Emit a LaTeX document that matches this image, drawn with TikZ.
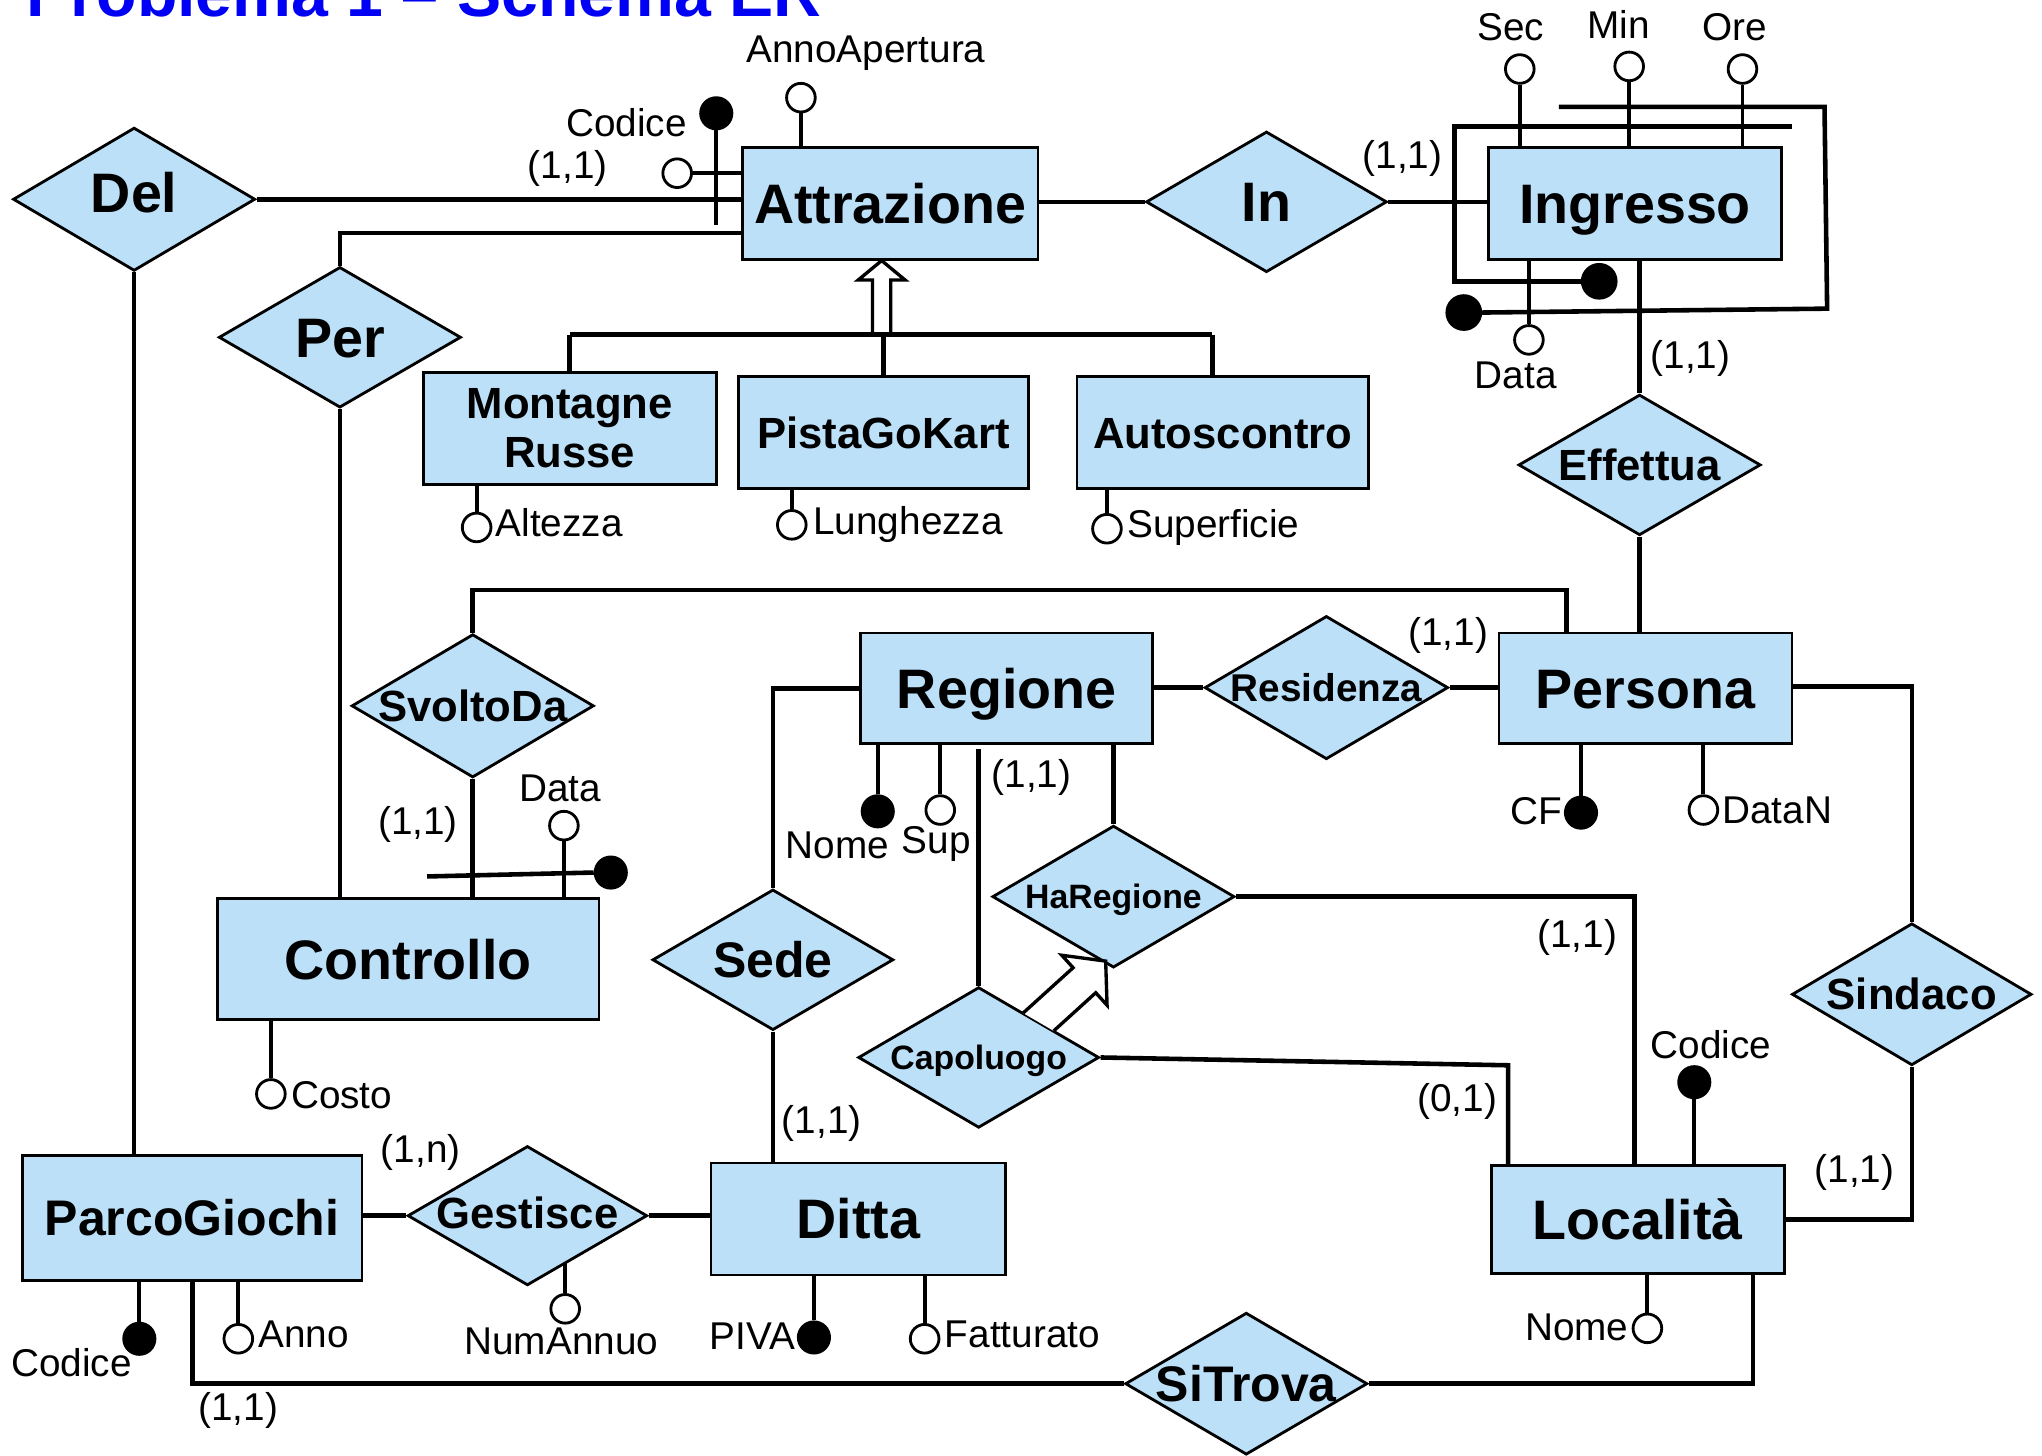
\documentclass[tikz,border=0pt]{standalone}
\usepackage{fontspec}
\setmainfont{Liberation Sans}
\usetikzlibrary{shapes.geometric,calc}
\definecolor{erblue}{RGB}{187,224,248}
\definecolor{titleblue}{RGB}{0,0,245}
\newcommand\fA{\bfseries\fontsize{15.8}{17}\selectfont}
\newcommand\fB{\bfseries\fontsize{12.4}{14}\selectfont}
\newcommand\fC{\bfseries\fontsize{14.2}{16}\selectfont}
\newcommand\fD{\bfseries\fontsize{11}{13}\selectfont}
\newcommand\fE{\bfseries\fontsize{9.6}{11}\selectfont}
\tikzset{
  ent/.style={draw,fill=erblue,line width=0.8pt,inner sep=0pt,align=center,font=\fA},
  rel/.style={diamond,draw,fill=erblue,line width=0.8pt,inner sep=0pt,font=\fA},
  capA/.style={text height=11.3pt,text depth=0pt},
  capB/.style={font=\fB,text height=8.9pt,text depth=0pt},
  capC/.style={font=\fC,text height=10.2pt,text depth=0pt},
  capD/.style={font=\fD,text height=7.9pt,text depth=0pt},
  capE/.style={font=\fE,text height=6.9pt,text depth=0pt},
  conn/.style={line width=1.3pt},
  attl/.style={line width=1.1pt},
  isaarrow/.style={line width=0.95pt,fill=white},
  oatt/.style={circle,draw,fill=white,line width=0.8pt,minimum size=0.286cm,inner sep=0pt},
  fatt/.style={circle,draw,fill=black,line width=0.8pt,minimum size=0.312cm,inner sep=0pt},
  lbl/.style={font=\fontsize{11}{12}\selectfont,inner sep=0pt},
}
\begin{document}
\begin{tikzpicture}[x=0.013cm,y=-0.013cm]
\useasboundingbox (0,0) rectangle (1568,1118);
\clip (0,0) rectangle (1568,1118);

% title
\node[anchor=base west,inner sep=0pt,text=titleblue,font=\bfseries\fontsize{18.8}{20}\selectfont] (title) at (20,13) {Problema 1 – Schema ER};

% entities
\node[ent,capA,minimum width=2.951cm,minimum height=1.118cm] (attr) at (683.5,156) {Attrazione};
\node[ent,capA,minimum width=2.925cm,minimum height=1.118cm] (ingr) at (1255.5,156) {Ingresso};
\node[ent,minimum width=2.925cm,minimum height=1.118cm,font=\fB] (mr) at (437.5,329) {Montagne\\Russe};
\node[ent,capB,minimum width=2.899cm,minimum height=1.118cm] (pgk) at (678.5,332) {PistaGoKart};
\node[ent,capB,minimum width=2.912cm,minimum height=1.118cm] (ac) at (939,332) {Autoscontro};
\node[ent,capA,minimum width=2.912cm,minimum height=1.105cm] (reg) at (773,528.5) {Regione};
\node[ent,capA,minimum width=2.925cm,minimum height=1.105cm] (pers) at (1263.5,528.5) {Persona};
\node[ent,capA,minimum width=3.809cm,minimum height=1.209cm] (ctrl) at (313.5,736.5) {Controllo};
\node[ent,capC,minimum width=3.393cm,minimum height=1.248cm] (pg) at (147.5,935) {ParcoGiochi};
\node[ent,capA,minimum width=2.938cm,minimum height=1.118cm] (ditta) at (659,936) {Ditta};
\node[ent,capA,minimum width=2.925cm,minimum height=1.079cm] (loc) at (1257.5,936.5) {Località};

% relationships
\node[rel,capA,minimum width=2.418cm,minimum height=1.43cm] (del) at (103,153) {\makebox[0pt]{\raisebox{1.8pt}{Del}}};
\node[rel,capA,minimum width=2.405cm,minimum height=1.404cm] (in) at (972.5,155) {\makebox[0pt]{In}};
\node[rel,capA,minimum width=2.418cm,minimum height=1.404cm] (per) at (261,259) {\makebox[0pt]{Per}};
\node[rel,capB,minimum width=2.418cm,minimum height=1.404cm] (eff) at (1259,357) {\makebox[0pt]{Effettua}};
\node[rel,capB,minimum width=2.418cm,minimum height=1.43cm] (svd) at (363,542) {\makebox[0pt]{SvoltoDa}};
\node[rel,capD,minimum width=2.431cm,minimum height=1.43cm] (res) at (1018.5,528) {\makebox[0pt]{Residenza}};
\node[rel,capC,minimum width=2.405cm,minimum height=1.404cm] (sede) at (593.5,737) {\makebox[0pt]{Sede}};
\node[rel,capE,minimum width=2.418cm,minimum height=1.417cm] (har) at (855,688.5) {\makebox[0pt]{HaRegione}};
\node[rel,capE,minimum width=2.405cm,minimum height=1.404cm] (cap) at (751.5,812) {\makebox[0pt]{Capoluogo}};
\node[rel,capB,minimum width=2.392cm,minimum height=1.417cm] (sin) at (1468,763.5) {\makebox[0pt]{Sindaco}};
\node[rel,capB,minimum width=2.392cm,minimum height=1.391cm] (ges) at (405,933.5) {\makebox[0pt]{\raisebox{0.8pt}{Gestisce}}};
\node[rel,capC,minimum width=2.418cm,minimum height=1.417cm] (sit) at (957,1062.5) {\makebox[0pt]{SiTrova}};

% ---------- Attrazione ----------
\node[fatt] (cod1) at (550,87) {};
\node[oatt] (cod1b) at (520,133) {};
\node[oatt] (anno1) at (615,75) {};
\node[lbl] (lcod1) at (481,94) {Codice};
\node[lbl] (lanno1) at (665,41) {AnnoApertura};
\node[lbl] (k1) at (436,129) {(1,1)};
\draw[conn] (del.east) -- (del.east -| attr.west);
\draw[attl] (cod1.south) -- (cod1.south |- 0,173);
\draw[attl] (cod1b.east) -- (cod1b.east -| attr.west);
\draw[attl] (anno1.south) -- (anno1.south |- attr.north);
\draw[conn] (attr.west |- 0,179) -| (per.north);
\draw[conn] (attr.east |- in.west) -- (in.west);
\draw[conn] (in.east) -- (in.east -| ingr.west);
\node[lbl] (k2) at (1077,122) {(1,1)};

% generalization
\coordinate (isa1) at (attr.south -| 677,0);
\coordinate (gL) at (437.5,257);
\coordinate (gM) at (678.5,257);
\coordinate (gR) at (931,257);
\draw[isaarrow] (670,257) -- (670,215) -- (659,215) -- (isa1) -- (695,215) -- (684,215) -- (684,257);
\draw[conn] (gL) -- (gR);
\draw[conn] (gL) -- (mr.north);
\draw[conn] (gM) -- (pgk.north);
\draw[conn] (gR) -- (ac.north -| gR);

\node[oatt] (alt) at (366,405) {};
\node[oatt] (lun) at (608,403) {};
\node[oatt] (sup1) at (850,406) {};
\draw[attl] (alt.north) -- (alt.north |- mr.south);
\draw[attl] (lun.north) -- (lun.north |- pgk.south);
\draw[attl] (sup1.north) -- (sup1.north |- ac.south);
\node[lbl,anchor=west] (lalt) at (380,401) {Altezza};
\node[lbl,anchor=west] (llun) at (624,403) {Lunghezza};
\node[lbl,anchor=west] (lsup) at (865,405) {Superficie};

% ---------- Ingresso ----------
\node[oatt] (sec) at (1167,53) {};
\node[oatt] (min) at (1251,51) {};
\node[oatt] (ore) at (1338,53) {};
\draw[attl] (sec.south) -- (sec.south |- ingr.north);
\draw[attl] (min.south) -- (min.south |- ingr.north);
\draw[attl] (ore.south) -- (ore.south |- ingr.north);
\node[lbl] (lsec) at (1160,21) {Sec};
\node[lbl] (lmin) at (1243,19) {Min};
\node[lbl] (lore) at (1332,21) {Ore};
\node[fatt,minimum size=0.338cm] (idI1) at (1228,216) {};
\node[fatt,minimum size=0.338cm] (idI2) at (1124,240) {};
\draw[conn] (1376,97) -- (1117,97) -- (1117,216) -- (idI1.west);
\draw[conn] (1197,82) -- (1401,82) -- (1403,237) -- (idI2.east);
\node[oatt] (dataI) at (1174,261) {};
\draw[attl] (dataI.north) -- (dataI.north |- ingr.south);
\node[lbl] (ldataI) at (1164,288) {Data};
\draw[conn] (ingr.south -| eff.north) -- (eff.north);
\node[lbl] (k3) at (1298,275) {(1,1)};
\draw[conn] (eff.south) -- (eff.south |- pers.north);

% ---------- Persona ----------
\draw[conn] (reg.east |- res.west) -- (res.west);
\draw[conn] (res.east) -- (res.east -| pers.west);
\node[lbl] (k4) at (1112,488) {(1,1)};
\coordinate (svdP) at (1203,453);
\draw[conn] (svd.north) |- (svdP) -- (pers.north -| svdP);
\draw[conn] (pers.east |- 0,527) -| (sin.north);
\node[fatt] (cf) at (1214,624) {};
\node[oatt] (datan) at (1308,622) {};
\draw[attl] (cf.north) -- (cf.north |- pers.south);
\draw[attl] (datan.north) -- (datan.north |- pers.south);
\node[lbl,anchor=east] (lcf) at (1200,623) {CF};
\node[lbl,anchor=west] (ldatan) at (1322,622) {DataN};

% ---------- Regione ----------
\node[fatt] (nomeR) at (674,623) {};
\node[oatt] (supR) at (722,622) {};
\draw[attl] (nomeR.north) -- (nomeR.north |- reg.south);
\draw[attl] (supR.north) -- (supR.north |- reg.south);
\node[lbl] (lnomeR) at (643,649) {Nome};
\node[lbl] (lsupR) at (719,648) {Sup};
\draw[conn] (reg.west) -| (sede.north);
\draw[conn] (cap.north |- 0,575) -- (cap.north);
\node[lbl] (k5) at (792,597) {(1,1)};
\draw[conn] (har.north |- reg.south) -- (har.north);
\coordinate (locA) at (loc.north -| 1255,0);
\draw[conn] (har.east) -| (locA);
\node[lbl] (k6) at (1211,720) {(1,1)};
\coordinate (capB) at (1158,818);
\draw[conn] (cap.east) -- (capB) -- (loc.north -| capB);
\node[lbl] (k7) at (1119,846) {(0,1)};
\coordinate (isa2) at (849,738);
\draw[isaarrow] (785.6,777.9) -- (824,743.1) -- (815.3,733.5) -- (isa2) -- (850.1,771.9) -- (841.4,762.3) -- (809.1,791.6);

% ---------- Controllo ----------
\draw[conn] (svd.south) -- (svd.south |- ctrl.north);
\node[lbl] (k8) at (321,633) {(1,1)};
\node[fatt] (idC) at (469,670) {};
\draw[conn] (328,673) -- (idC.west);
\node[oatt] (dataC) at (433,634) {};
\draw[attl] (dataC.south) -- (dataC.south |- ctrl.north);
\node[lbl] (ldataC) at (430,605) {Data};
\draw[conn] (per.south) -- (per.south |- ctrl.north);
\draw[conn] (del.south) -- (del.south |- pg.north);
\node[oatt] (costo) at (208,840) {};
\draw[attl] (costo.north) -- (costo.north |- ctrl.south);
\node[lbl,anchor=west] (lcosto) at (223,841) {Costo};

% ---------- ParcoGiochi / Ditta ----------
\draw[conn] (pg.east |- ges.west) -- (ges.west);
\node[lbl] (k9) at (323,885) {(1,n)};
\draw[conn] (ges.east) -- (ges.east -| ditta.west);
\node[oatt] (numa) at (434,1005) {};
\draw[attl] (numa.north) -- (numa.north |- 0,970);
\node[lbl] (lnuma) at (431,1030) {NumAnnuo};
\node[fatt] (codPG) at (107,1028) {};
\draw[attl] (codPG.north) -- (codPG.north |- pg.south);
\node[lbl] (lcodPG) at (55,1046) {Codice};
\node[oatt] (annoPG) at (183,1028) {};
\draw[attl] (annoPG.north) -- (annoPG.north |- pg.south);
\node[lbl,anchor=west] (lannoPG) at (198,1025) {Anno};
\coordinate (pgS) at (148,983);
\draw[conn] (pg.south -| pgS) |- (sit.west);
\node[lbl] (k10) at (183,1083) {(1,1)};
\draw[conn] (sede.south) -- (sede.south |- ditta.north);
\node[lbl] (k11) at (631,863) {(1,1)};
\node[fatt] (piva) at (625,1027) {};
\draw[attl] (piva.north) -- (piva.north |- ditta.south);
\node[lbl,anchor=east] (lpiva) at (611,1026) {PIVA};
\node[oatt] (fatt) at (710,1028) {};
\draw[attl] (fatt.north) -- (fatt.north |- ditta.south);
\node[lbl,anchor=west] (lfatt) at (725,1025) {Fatturato};

% ---------- Località ----------
\node[fatt] (codL) at (1301,831) {};
\draw[attl] (codL.south) -- (codL.south |- loc.north);
\node[lbl] (lcodL) at (1314,802) {Codice};
\node[oatt] (nomeL) at (1265,1020) {};
\draw[attl] (nomeL.north) -- (nomeL.north |- loc.south);
\node[lbl,anchor=east] (lnomeL) at (1251,1019) {Nome};
\coordinate (locS) at (1346,978);
\draw[conn] (sit.east) -| (loc.south -| locS);
\draw[conn] (sin.south) |- (loc.east);
\node[lbl] (k12) at (1424,900) {(1,1)};
\end{tikzpicture}
\end{document}
